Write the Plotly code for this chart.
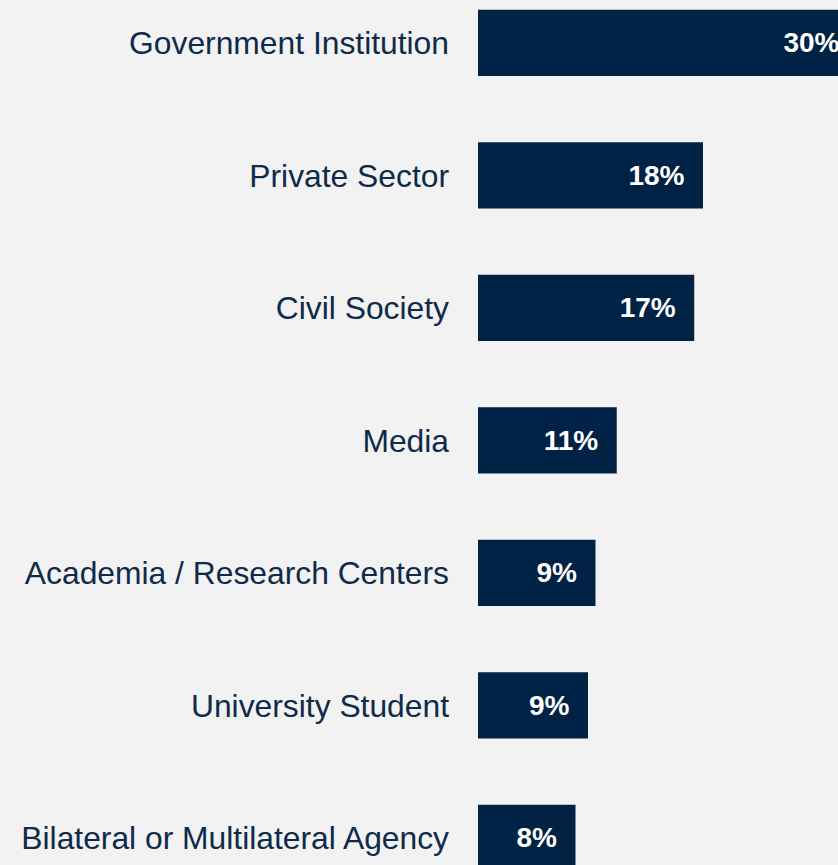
import plotly.graph_objects as go

categories = ["Government Institution", "Private Sector", "Civil Society", "Media",
              "Academia / Research Centers", "University Student",
              "Bilateral or Multilateral Agency"]
values = [30.4, 18.0, 17.3, 11.1, 9.4, 8.8, 7.8]
labels = ["30%", "18%", "17%", "11%", "9%", "9%", "8%"]

BG = "#f2f2f2"
BAR = "#002245"
TXT = "#0f2a4a"

fig = go.Figure(go.Bar(
    y=categories, x=values, orientation="h",
    marker=dict(color=BAR, line=dict(width=0)),
    width=0.5,
    text=[l + "\u00a0\u00a0" for l in labels],
    textposition="inside", insidetextanchor="end",
    textfont=dict(family="Liberation Sans, Arial", size=28, color="white", weight="bold"),
    cliponaxis=True,
    hoverinfo="skip",
))

fig.update_layout(
    width=838, height=865,
    margin=dict(l=478, r=0, t=0, b=0),
    paper_bgcolor=BG, plot_bgcolor=BG,
    showlegend=False,
    uniformtext=dict(minsize=10, mode="show"),
    xaxis=dict(range=[0, 28.8], visible=False, fixedrange=True),
    yaxis=dict(
        type="category", range=[6.204, -0.3245], fixedrange=True,
        showgrid=False, zeroline=False, showline=False,
        ticks="", ticklabelstandoff=28,
        tickfont=dict(family="Liberation Sans, Arial", size=31.8, color=TXT),
    ),
)

fig.write_html(
    "out.html",
    config={"displayModeBar": False, "staticPlot": True},
    post_script="document.body.style.margin='0';document.body.style.padding='0';"
                "document.body.style.overflow='hidden';document.body.style.background='#f2f2f2';",
)
